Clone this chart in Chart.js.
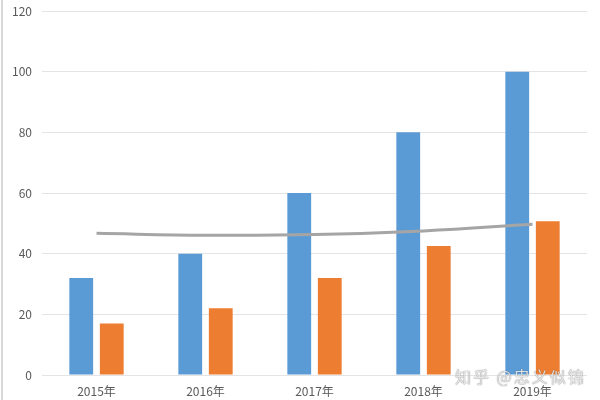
<!DOCTYPE html>
<html>
<head>
<meta charset="utf-8">
<script src="https://cdn.jsdelivr.net/npm/chart.js@4/dist/chart.umd.min.js"></script>
<style>
  html, body { margin: 0; padding: 0; background: #fff; }
  #wrap { position: relative; width: 600px; height: 400px; }
  #frame { position: absolute; left: 1px; top: 0; width: 2px; height: 400px; background: #d9d9d9; }
  #wm { position: absolute; left: 455px; top: 364px; font-family: "Noto Sans CJK SC", sans-serif; font-size: 16px; letter-spacing: 2px;
        color: rgba(255,255,255,0.8); text-shadow: 0 0 1px rgba(90,90,90,0.7), 0 0 1px rgba(90,90,90,0.5); white-space: nowrap; }
</style>
</head>
<body>
<div id="wrap">
  <canvas id="c" width="600" height="400"></canvas>
  <div id="frame"></div>
  <div id="wm">知乎 @忠义似锦</div>
</div>
<script>
const categories = ['2015年', '2016年', '2017年', '2018年', '2019年'];
const blueValues = [32, 40, 60, 80, 100];
const orangeValues = [17, 22, 32, 42.5, 50.7];
const lineValues = [46.7, 46.1, 46.3, 47.5, 49.7];
const yTicks = [0, 20, 40, 60, 80, 100, 120];

const font = { family: '"Noto Sans CJK SC", "Noto Sans", sans-serif', size: 12 };

new Chart(document.getElementById('c'), {
  type: 'bar',
  data: {
    labels: categories,
    datasets: [
      { type: 'line', data: lineValues, borderColor: '#A5A5A5', borderWidth: 3, pointRadius: 0, tension: 0.4, fill: false, order: 0 },
      { data: blueValues, backgroundColor: '#5B9BD5', categoryPercentage: 0.56, barPercentage: 0.78, order: 1 },
      { data: orangeValues, backgroundColor: '#ED7D31', categoryPercentage: 0.56, barPercentage: 0.78, order: 1 }
    ]
  },
  options: {
    responsive: false,
    animation: false,
    devicePixelRatio: 1,
    layout: { padding: { top: 11, right: 13, left: 0, bottom: 0 } },
    plugins: { legend: { display: false }, tooltip: { enabled: false } },
    scales: {
      x: {
        grid: { display: false, drawTicks: false },
        border: { display: false },
        ticks: { font: font, color: '#595959', padding: 9, maxRotation: 0 },
        afterFit: s => { s.height = 25; s.paddingLeft = 0; s.paddingRight = 0; }
      },
      y: {
        min: 0, max: 120,
        afterBuildTicks: s => { s.ticks = yTicks.map(v => ({ value: v })); },
        grid: { color: '#e4e4e4', lineWidth: 1, drawTicks: false },
        border: { display: false },
        ticks: { font: font, color: '#595959', padding: 10 },
        afterFit: s => { s.width = 42; s.paddingTop = 0; s.paddingBottom = 0; }
      }
    }
  }
});
</script>
</body>
</html>
